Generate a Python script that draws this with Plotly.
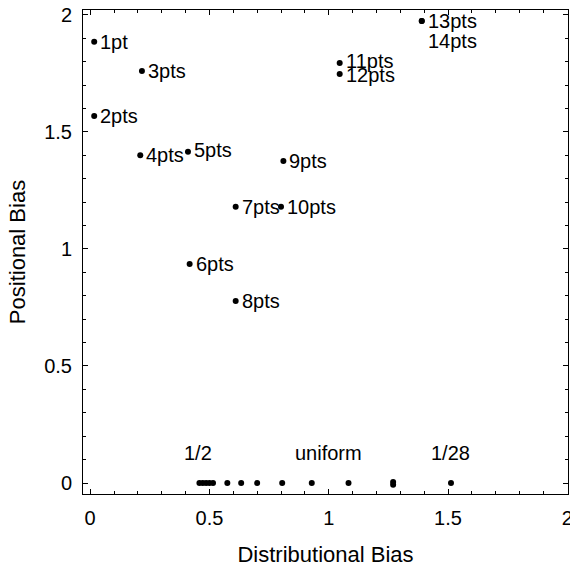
import plotly.graph_objects as go

# Labelled point sets: distributional bias (x) vs positional bias (y)
labels = ["1pt", "2pts", "3pts", "4pts", "5pts", "6pts", "7pts", "8pts",
          "9pts", "10pts", "11pts", "12pts", "13pts", "14pts"]
dist_bias = [0.017, 0.017, 0.217, 0.21, 0.41, 0.417, 0.61, 0.61,
             0.81, 0.80, 1.046, 1.046, 1.39, 1.39]
pos_bias = [1.885, 1.568, 1.76, 1.40, 1.415, 0.936, 1.18, 0.778,
            1.376, 1.18, 1.795, 1.748, 1.974, 1.974]
# vertical offset (px) of each label relative to its point
label_dy = [0, 0, 0, 0, 2, 0, 0, 0, 0, 0, 2, -1, 0, -20]

# Distributions with zero positional bias
zero_dist = [0.458, 0.472, 0.486, 0.50, 0.515, 0.575, 0.633, 0.70,
             0.805, 0.929, 1.083, 1.27, 1.27, 1.5125]
zero_pos = [0, 0, 0, 0, 0, 0, 0, 0, 0, 0, 0, 0.004, -0.008, 0]
zero_labels = ["1/2", "uniform", "1/28"]
zero_label_x = [0.45, 1.0, 1.51]
zero_label_y = [0.13, 0.13, 0.13]

FONT = "Liberation Sans, Arial, Helvetica, sans-serif"

fig = go.Figure()
fig.add_trace(go.Scatter(
    x=dist_bias, y=pos_bias, mode="markers",
    marker=dict(color="black", size=6), hoverinfo="skip", showlegend=False))
fig.add_trace(go.Scatter(
    x=zero_dist, y=zero_pos, mode="markers",
    marker=dict(color="black", size=6), hoverinfo="skip", showlegend=False))

for lx, ly, lt, dy in zip(dist_bias, pos_bias, labels, label_dy):
    fig.add_annotation(x=lx, y=ly, text=lt, showarrow=False,
                       xanchor="left", yanchor="middle", xshift=4, yshift=dy,
                       font=dict(family=FONT, size=20, color="black"))

for lx, ly, lt in zip(zero_label_x, zero_label_y, zero_labels):
    fig.add_annotation(x=lx, y=ly, text=lt, showarrow=False,
                       xanchor="center", yanchor="middle",
                       font=dict(family=FONT, size=20, color="black"))

axis_common = dict(
    showline=True, linecolor="black", linewidth=1, mirror="allticks",
    ticks="inside", ticklen=5, tickcolor="black", tickwidth=1,
    showgrid=False, zeroline=False, ticklabeloverflow="allow",
    automargin=False,
    tickfont=dict(family=FONT, size=20, color="black"),
    minor=dict(ticks="inside", ticklen=3, dtick=0.1, tickcolor="black",
               showgrid=False),
)

fig.update_xaxes(range=[-0.03, 2.003], tickvals=[0, 0.5, 1, 1.5, 2],
                 ticktext=["0", "0.5", "1", "1.5", "2"],
                 ticklabelstandoff=6,
                 title=dict(text="Distributional Bias", standoff=22,
                            font=dict(family=FONT, size=22, color="black")),
                 **axis_common)
fig.update_yaxes(range=[-0.047, 2.021], tickvals=[0, 0.5, 1, 1.5, 2],
                 ticktext=["0", "0.5", "1", "1.5", "2"],
                 ticklabelstandoff=6,
                 title=dict(text="Positional Bias", standoff=12,
                            font=dict(family=FONT, size=22, color="black")),
                 **axis_common)

fig.update_layout(
    width=570, height=567,
    margin=dict(l=83, r=2, t=10, b=73),
    paper_bgcolor="white", plot_bgcolor="white",
)

fig.write_html("out.html")
